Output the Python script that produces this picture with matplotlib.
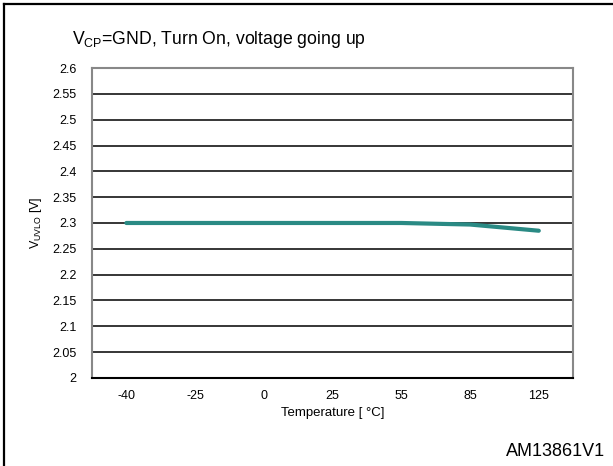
import matplotlib
matplotlib.use("Agg")
import matplotlib.pyplot as plt
from matplotlib.lines import Line2D

plt.rcParams['font.family'] = ['Liberation Sans', 'DejaVu Sans']
plt.rcParams['mathtext.fontset'] = 'custom'
plt.rcParams['mathtext.rm'] = 'Liberation Sans'
plt.rcParams['mathtext.it'] = 'Liberation Sans'

temps = ['-40', '-25', '0', '25', '55', '85', '125']
vuvlo = [2.3, 2.3, 2.3, 2.3, 2.3, 2.297, 2.285]
yticks = [2, 2.05, 2.1, 2.15, 2.2, 2.25, 2.3, 2.35, 2.4, 2.45, 2.5, 2.55, 2.6]
ytick_labels = ['2', '2.05', '2.1', '2.15', '2.2', '2.25', '2.3', '2.35', '2.4', '2.45', '2.5', '2.55', '2.6']

fig = plt.figure(figsize=(6.13, 4.66), dpi=100)
ax = fig.add_axes([0.150, 0.189, 0.785, 0.665])

x = list(range(len(temps)))
ax.set_xlim(-0.5, len(temps) - 0.5)
ax.set_ylim(2, 2.6)
for v in yticks[1:-1]:
    ax.axhline(v, color='black', lw=1.1, zorder=1)
ax.plot(x, vuvlo, color='#2a8a84', lw=3.0, solid_capstyle='round', zorder=3)

ax.set_xticks(x)
ax.set_xticklabels(temps)
ax.set_yticks(yticks)
ax.set_yticklabels(ytick_labels)
ax.tick_params(axis='both', length=0, labelsize=9)
ax.tick_params(axis='y', pad=11)
ax.tick_params(axis='x', pad=9)

for s in ['left', 'top', 'right']:
    ax.spines[s].set_color('#888888')
    ax.spines[s].set_linewidth(1.5)
ax.spines['bottom'].set_color('black')
ax.spines['bottom'].set_linewidth(1.5)

ax.set_xlabel('Temperature [ °C]', fontsize=9.5, labelpad=3)
ax.set_ylabel(r'V$_{\mathregular{UVLO}}$ [V]', fontsize=9, labelpad=6)

fig.text(72 / 613, 1 - 44 / 466, r'V$_{\mathregular{CP}}$=GND, Turn On, voltage going up',
         fontsize=12.7, ha='left', va='baseline')
fig.text(605 / 613, 1 - 452 / 466, 'AM13861V1', fontsize=13, ha='right', va='center')

fig.add_artist(Line2D([4 / 613, 4 / 613], [0, 1 - 4 / 466], transform=fig.transFigure,
                      color='black', lw=1.6))
fig.add_artist(Line2D([4 / 613, 1], [1 - 4 / 466, 1 - 4 / 466], transform=fig.transFigure,
                      color='black', lw=1.6))

fig.savefig('out.png', dpi=100)
